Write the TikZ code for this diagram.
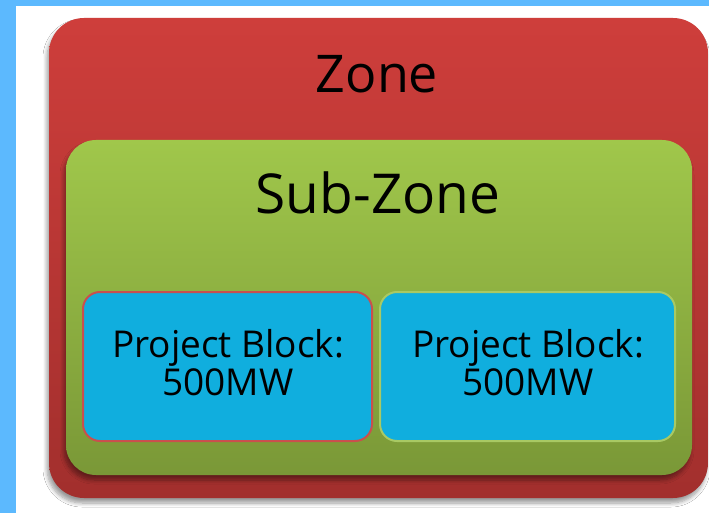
\documentclass[tikz,border=0pt]{standalone}
\usepackage{fontspec}
\setmainfont{Open Sans}
\usetikzlibrary{shadows.blur}
\definecolor{sidebl}{HTML}{5CB9FE}
\definecolor{redtop}{HTML}{CE3E3B}
\definecolor{redbot}{HTML}{A22F2D}
\definecolor{grtop}{HTML}{A0C74B}
\definecolor{grbot}{HTML}{7A9837}
\definecolor{blockfill}{HTML}{10AEDE}
\definecolor{redline}{HTML}{C9504E}
\definecolor{grline}{HTML}{A8C964}
\tikzset{
  zonebox/.style={rectangle, rounded corners=35pt, top color=redtop, bottom color=redbot, draw=none,
    blur shadow={shadow xshift=-2pt, shadow yshift=-5pt, shadow blur steps=8, shadow blur radius=4pt}},
  subbox/.style={rectangle, rounded corners=30pt, top color=grtop, bottom color=grbot, draw=none,
    blur shadow={shadow xshift=-2pt, shadow yshift=-5pt, shadow blur steps=8, shadow blur radius=4pt}},
  blockbox/.style={rectangle, rounded corners=17pt, fill=blockfill, line width=2pt},
  bigtext/.style={font=\fontsize{52}{60}\selectfont, inner sep=0pt, anchor=base},
  subtext/.style={font=\fontsize{55}{60}\selectfont, inner sep=0pt, anchor=base},
  blocktext/.style={font=\fontsize{37}{38}\selectfont, inner sep=0pt, align=center, anchor=base},
}
\begin{document}
\begin{tikzpicture}[x=1pt,y=-1pt]
\useasboundingbox (0,0) rectangle (709,513);
\fill[white] (0,0) rectangle (709,513);
\fill[sidebl] (0,0) rectangle (16,513);
\fill[sidebl] (0,0) rectangle (709,6);
\node[zonebox, minimum width=659pt, minimum height=480pt] (zone) at (378.5,258) {};
\node[subbox, minimum width=626pt, minimum height=335pt] (sub) at (379,307.5) {};
\node[blockbox, draw=redline, minimum width=289pt, minimum height=149pt] (b1) at (227.5,366.5) {};
\node[blockbox, draw=grline, minimum width=295pt, minimum height=149pt] (b2) at (527.5,366.5) {};
\node[bigtext] (zt) at (377,93) {Zone};
\node[subtext] (st) at (378,213) {Sub-Zone};
\node[blocktext] (t1a) at (228,357) {Project Block:};
\node[blocktext] (t1b) at (228,395) {500MW};
\node[blocktext] (t2a) at (528,357) {Project Block:};
\node[blocktext] (t2b) at (528,395) {500MW};
\end{tikzpicture}
\end{document}
